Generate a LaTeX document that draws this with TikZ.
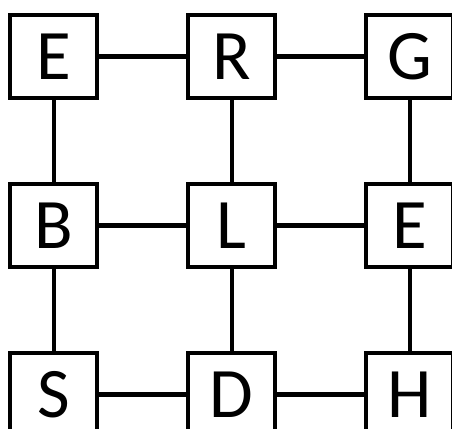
\documentclass[tikz,border=0pt]{standalone}
\usepackage{fontspec}
\setmainfont{Carlito}
\begin{document}
\begin{tikzpicture}[x=1pt,y=-1pt,
  cell/.style={draw,line width=4pt,minimum width=87pt,minimum height=83pt,
    inner sep=0pt,font=\fontsize{71}{71}\selectfont},
  link/.style={line width=4.5pt}]
\clip (0,0) rectangle (452,428);
\foreach \lab/\col/\row in {E/0/0,R/1/0,G/2/0,B/0/1,L/1/1,E/2/1,S/0/2,D/1/2,H/2/2}
  \node[cell] (n\col\row) at (53.75+178*\col,56.75+168.75*\row) {\lab};
\foreach \row in {0,1,2} {
  \draw[link] (n0\row) -- (n1\row);
  \draw[link] (n1\row) -- (n2\row);
}
\foreach \col in {0,1,2} {
  \draw[link] (n\col0) -- (n\col1);
  \draw[link] (n\col1) -- (n\col2);
}
\end{tikzpicture}
\end{document}
